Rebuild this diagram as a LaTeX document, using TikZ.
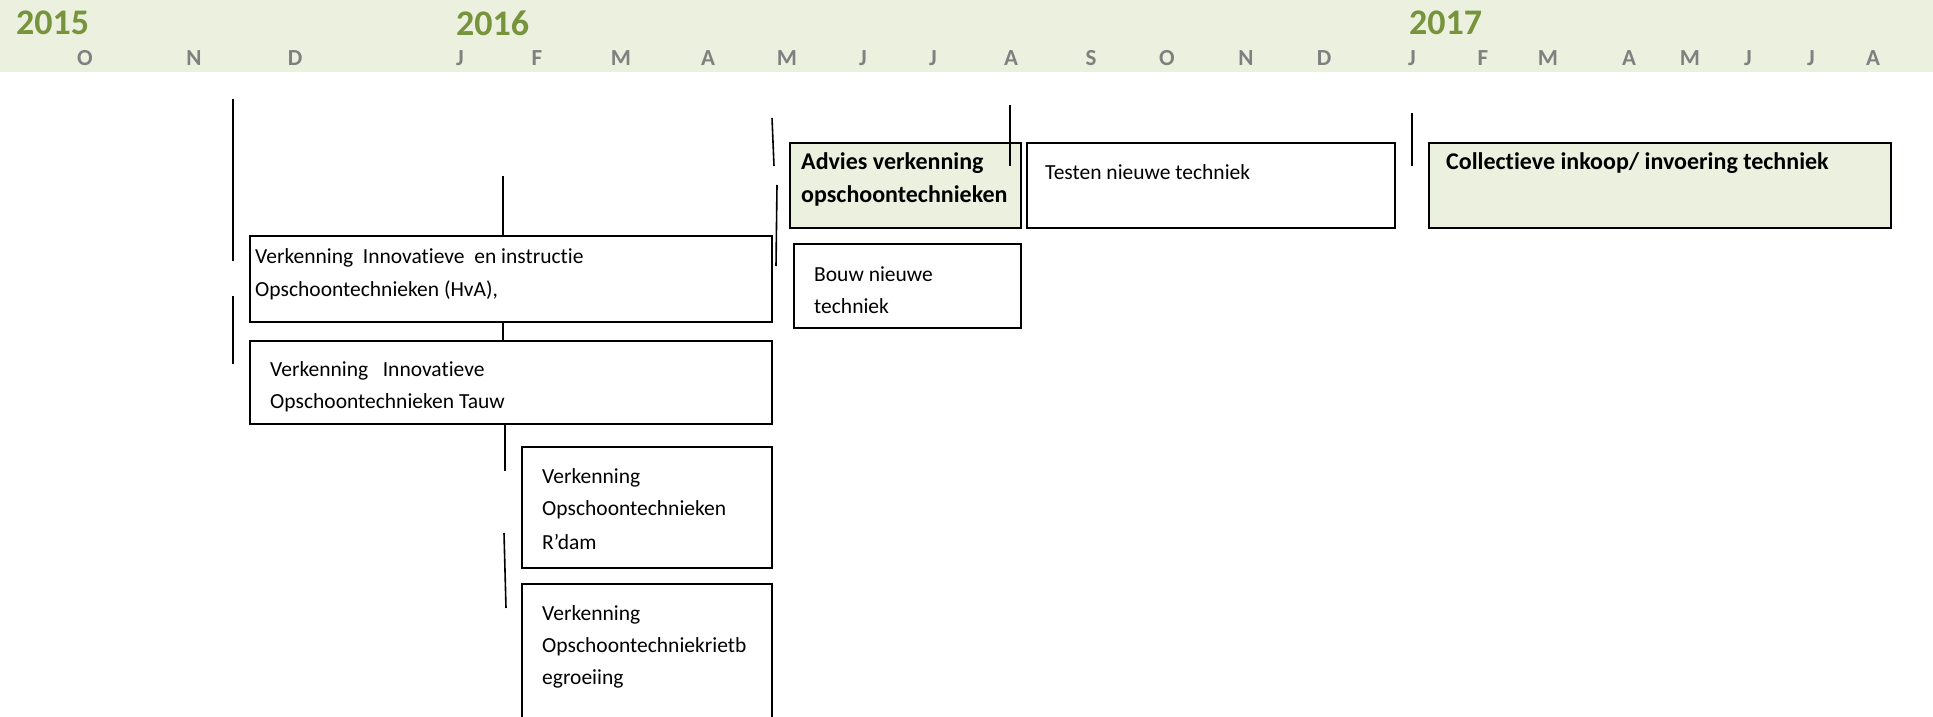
\documentclass[tikz,border=0pt]{standalone}
\usepackage{fontspec}
\setmainfont[Ligatures={NoCommon,NoContextual}]{Carlito}
\definecolor{band}{HTML}{EBF1DE}
\definecolor{yeargreen}{HTML}{77933C}
\definecolor{monthgrey}{HTML}{808080}
\begin{document}
\begin{tikzpicture}[x=1pt,y=-1pt,
  box/.style={draw=black,line width=1.6pt,anchor=north west,inner sep=0pt},
  gbox/.style={box,fill=band},
  txt/.style={anchor=west,inner sep=0pt,font=\fontsize{21.5}{31}\selectfont},
  btxt/.style={anchor=west,inner sep=0pt,font=\fontsize{24}{33}\selectfont\bfseries},
  yr/.style={anchor=west,inner sep=0pt,text=yeargreen,font=\fontsize{36}{40}\selectfont\bfseries},
  mo/.style={inner sep=0pt,text=monthgrey,font=\fontsize{23}{25}\selectfont\bfseries},
  tick/.style={draw=black,line width=1.6pt}]
\useasboundingbox (0,0) rectangle (1933,717);
% header band
\fill[band] (0,0) rectangle (1933,72);
\node[yr] (y15) at (16,23) {2015};
\node[yr] (y16) at (456,23) {2016};
\node[yr] (y17) at (1409,23) {2017};
\foreach \m/\x [count=\i] in {O/85,N/194,D/295,J/460,F/537,M/621,A/708,M/787,J/863,J/933,A/1011,S/1091,O/1167,N/1246,D/1324,J/1412,F/1483,M/1548,A/1629,M/1690,J/1748,J/1811,A/1873}
  \node[mo] (m\i) at (\x,58) {\m};
% boxes
\node[box,minimum width=522pt,minimum height=86pt] (b1) at (249,235) {};
\node[box,minimum width=522pt,minimum height=83pt] (b2) at (249,340) {};
\node[box,minimum width=250pt,minimum height=121pt] (b3) at (521,446) {};
\node[box,minimum width=250pt,minimum height=150pt] (b4) at (521,583) {};
\node[gbox,minimum width=231pt,minimum height=85pt] (b5) at (789,142) {};
\node[box,minimum width=227pt,minimum height=84pt] (b6) at (793,243) {};
\node[box,minimum width=368pt,minimum height=85pt] (b7) at (1026,142) {};
\node[gbox,minimum width=462pt,minimum height=85pt] (b8) at (1428,142) {};
% texts
\node[txt] (t1a) at (255,258) {Verkenning\ \ Innovatieve\ \ en instructie};
\node[txt] (t1b) at (255,290) {Opschoontechnieken (HvA),};
\node[txt] (t2a) at (270,371) {Verkenning\ \ \ Innovatieve};
\node[txt] (t2b) at (270,403) {Opschoontechnieken Tauw};
\node[txt] (t3a) at (542,478) {Verkenning};
\node[txt] (t3b) at (542,510) {Opschoontechnieken};
\node[txt] (t3c) at (542,542) {R’dam};
\node[txt] (t4a) at (542,615) {Verkenning};
\node[txt] (t4b) at (542,647) {Opschoontechniekrietb};
\node[txt] (t4c) at (542,679) {egroeiing};
\node[btxt] (t5a) at (801,163) {Advies verkenning};
\node[btxt] (t5b) at (801,196) {opschoontechnieken};
\node[txt] (t6a) at (814,274) {Bouw nieuwe};
\node[txt] (t6b) at (814,306) {techniek};
\node[txt] (t7) at (1045,172) {Testen nieuwe techniek};
\node[btxt] (t8) at (1446,163) {Collectieve inkoop/ invoering techniek};
% milestone lines
\coordinate (l1a) at (233,99);  \coordinate (l1b) at (233,261);
\coordinate (l2a) at (233,296); \coordinate (l2b) at (233,364);
\coordinate (l3a) at (503,176);
\coordinate (l5a) at (505,423); \coordinate (l5b) at (505,471);
\coordinate (l6a) at (504,533); \coordinate (l6b) at (506,608);
\coordinate (l7a) at (772,118); \coordinate (l7b) at (774,166);
\coordinate (l8a) at (777,185); \coordinate (l8b) at (776,266);
\coordinate (l9a) at (1010,105); \coordinate (l9b) at (1010,166);
\coordinate (l10a) at (1412,113); \coordinate (l10b) at (1412,166);
\draw[tick] (l1a) -- (l1b);
\draw[tick] (l2a) -- (l2b);
\draw[tick] (l3a) -- (l3a |- b1.north);
\draw[tick] (b1.south -| l3a) -- (b2.north -| l3a);
\draw[tick] (l5a) -- (l5b);
\draw[tick] (l6a) -- (l6b);
\draw[tick] (l7a) -- (l7b);
\draw[tick] (l8a) -- (l8b);
\draw[tick] (l9a) -- (l9b);
\draw[tick] (l10a) -- (l10b);
\end{tikzpicture}
\end{document}
